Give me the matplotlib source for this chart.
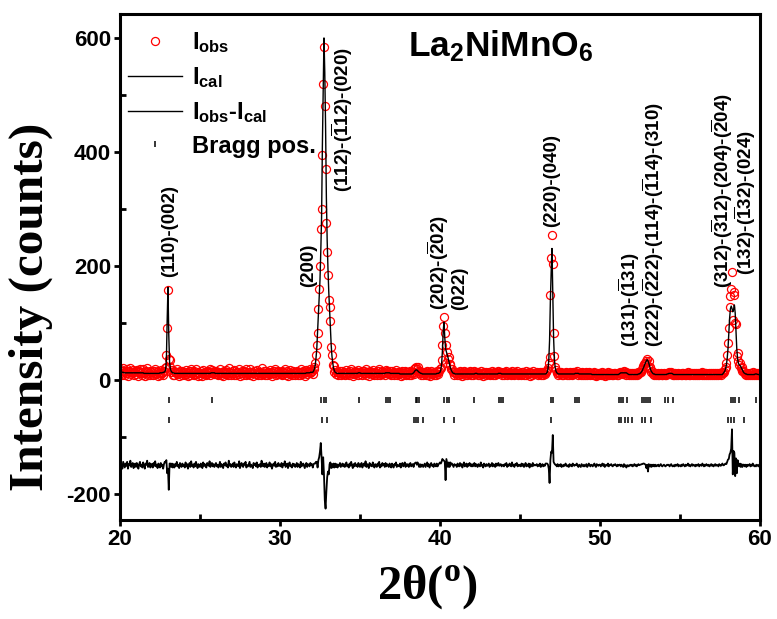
import numpy as np
import matplotlib
matplotlib.use("Agg")
import matplotlib.pyplot as plt
from matplotlib.lines import Line2D

plt.rcParams["font.family"] = ["Liberation Sans", "DejaVu Sans"]
plt.rcParams["font.weight"] = "bold"
plt.rcParams["axes.unicode_minus"] = False
plt.rcParams["mathtext.fontset"] = "custom"
plt.rcParams["mathtext.rm"] = "Liberation Serif:bold"
plt.rcParams["mathtext.bf"] = "Liberation Sans:bold"
plt.rcParams["mathtext.it"] = "Liberation Sans:bold:italic"

# 2-theta scan, 0.05 deg step
two_theta = np.linspace(20, 60, 801)

# observed counts, one row per degree
i_obs = [
    19, 12, 16, 9, 21, 15, 10, 17, 13, 20, 8, 16, 14, 22, 11, 15, 18, 9, 14, 17,
    11, 18, 14, 8, 16, 20, 12, 15, 10, 19, 13, 7, 16, 14, 21, 10, 12, 17, 9, 15,
    15, 9, 17, 12, 20, 11, 14, 8, 16, 13, 10, 18, 12, 15, 9, 17, 22, 24, 45, 92,
    158, 38, 36, 24, 14, 18, 10, 16, 9, 15, 12, 19, 11, 14, 8, 17, 13, 10, 16, 12,
    14, 9, 18, 11, 15, 7, 13, 17, 10, 20, 12, 14, 9, 16, 11, 19, 13, 8, 15, 12,
    10, 16, 13, 8, 18, 12, 15, 11, 9, 17, 14, 12, 20, 10, 15, 18, 12, 16, 11, 14,
    17, 11, 14, 9, 13, 19, 10, 15, 12, 8, 16, 13, 18, 11, 14, 9, 21, 12, 15, 10,
    13, 16, 10, 18, 12, 9, 15, 14, 11, 20, 8, 13, 17, 12, 10, 16, 14, 19, 9, 13,
    11, 15, 19, 10, 14, 12, 8, 17, 13, 16, 11, 18, 9, 14, 12, 15, 10, 21, 13, 11,
    16, 10, 13, 17, 9, 14, 12, 18, 11, 15, 7, 13, 16, 12, 19, 10, 14, 11, 17, 12,
    14, 11, 17, 9, 15, 13, 20, 10, 12, 16, 8, 14, 18, 11, 13, 9, 16, 12, 15, 10,
    12, 17, 10, 15, 13, 9, 19, 11, 14, 16, 12, 8, 15, 18, 11, 16, 14, 12, 19, 15,
    17, 11, 19, 24, 30, 45, 62, 82, 125, 160, 200, 265, 300, 395, 520, 585, 480, 370, 275, 225,
    185, 140, 128, 104, 58, 45, 27, 25, 14, 18, 11, 15, 9, 14, 12, 17, 10, 13, 16, 11,
    15, 10, 13, 18, 11, 14, 9, 16, 12, 19, 13, 8, 15, 11, 17, 12, 14, 10, 18, 15,
    11, 14, 17, 9, 13, 16, 12, 20, 10, 15, 13, 8, 17, 12, 14, 11, 18, 13, 9, 15,
    13, 10, 16, 12, 19, 9, 14, 11, 17, 13, 15, 10, 18, 12, 16, 14, 11, 17, 13, 9,
    16, 12, 9, 15, 13, 18, 10, 14, 12, 11, 15, 8, 13, 16, 10, 12, 17, 9, 14, 11,
    14, 9, 12, 16, 10, 13, 15, 11, 19, 22, 24, 20, 23, 17, 12, 16, 10, 14, 13, 9,
    12, 15, 9, 13, 17, 10, 14, 8, 12, 16, 11, 13, 9, 15, 12, 10, 16, 11, 14, 17,
    20, 22, 35, 62, 95, 111, 82, 30, 62, 50, 38, 40, 26, 28, 20, 19, 14, 10, 15, 12,
    13, 9, 15, 12, 10, 16, 11, 14, 8, 13, 17, 10, 12, 15, 9, 14, 11, 16, 12, 10,
    14, 10, 12, 16, 11, 15, 13, 9, 14, 12, 10, 17, 11, 13, 8, 15, 12, 10, 14, 11,
    12, 15, 9, 13, 11, 16, 10, 14, 12, 9, 15, 11, 13, 17, 12, 14, 15, 10, 12, 13,
    10, 14, 12, 16, 9, 13, 11, 15, 12, 10, 17, 11, 13, 9, 14, 12, 16, 10, 13, 11,
    13, 10, 15, 11, 14, 9, 12, 16, 10, 13, 11, 15, 8, 14, 12, 10, 16, 11, 13, 12,
    12, 14, 10, 13, 11, 15, 9, 12, 14, 10, 13, 11, 15, 16, 18, 22, 30, 40, 150, 215,
    254, 204, 82, 42, 24, 18, 12, 15, 10, 13, 11, 14, 9, 12, 10, 13, 11, 15, 12, 10,
    12, 9, 14, 11, 13, 10, 15, 12, 11, 14, 13, 16, 12, 10, 13, 11, 9, 14, 12, 10,
    13, 10, 12, 14, 9, 11, 15, 12, 10, 13, 11, 9, 12, 14, 10, 8, 13, 11, 10, 12,
    12, 9, 11, 14, 10, 13, 8, 11, 12, 10, 14, 9, 12, 11, 13, 10, 9, 12, 11, 13,
    11, 9, 12, 10, 13, 14, 12, 15, 13, 11, 16, 12, 14, 10, 13, 12, 9, 11, 12, 10,
    12, 9, 11, 13, 10, 12, 9, 11, 14, 12, 14, 15, 18, 20, 25, 28, 31, 33, 30, 38,
    24, 33, 24, 22, 14, 16, 11, 13, 10, 12, 9, 11, 10, 12, 9, 11, 13, 10, 9, 11,
    12, 10, 9, 11, 13, 12, 14, 11, 13, 15, 12, 10, 11, 9, 12, 10, 11, 13, 9, 11,
    11, 9, 12, 10, 13, 11, 9, 12, 10, 11, 14, 10, 12, 9, 11, 13, 10, 12, 11, 9,
    12, 10, 11, 13, 9, 11, 12, 10, 14, 11, 9, 12, 10, 13, 11, 10, 12, 9, 11, 13,
    10, 12, 9, 11, 13, 10, 12, 11, 9, 13, 11, 10, 12, 14, 13, 15, 19, 24, 30, 45,
    66, 92, 128, 148, 160, 190, 105, 150, 155, 100, 98, 42, 48, 33, 26, 30, 22, 24, 16, 17,
    15, 11, 13, 9, 12, 10, 11, 13, 9, 12, 10, 14, 11, 9, 12, 10, 13, 11, 9, 12,
    12,
]

# calculated profile from the refinement
i_cal = [
    14, 14, 14, 14, 14, 13, 13, 13, 13, 13, 13, 13, 13, 13, 13, 13, 13, 13, 13, 13,
    13, 13, 13, 13, 13, 13, 13, 13, 13, 13, 12, 12, 12, 12, 12, 12, 12, 12, 12, 12,
    12, 12, 12, 12, 12, 12, 12, 12, 12, 12, 13, 13, 13, 13, 14, 14, 15, 18, 35, 105,
    163, 80, 32, 20, 16, 14, 13, 13, 12, 12, 12, 12, 12, 12, 12, 12, 12, 12, 12, 12,
    12, 12, 12, 12, 12, 12, 12, 12, 12, 12, 12, 12, 12, 12, 12, 12, 12, 12, 12, 12,
    12, 12, 12, 12, 12, 12, 12, 12, 12, 12, 12, 12, 12, 12, 13, 13, 13, 13, 13, 12,
    12, 12, 12, 12, 12, 12, 12, 12, 12, 12, 12, 12, 12, 12, 12, 12, 12, 12, 12, 12,
    12, 12, 12, 12, 12, 12, 12, 12, 12, 12, 12, 12, 12, 12, 12, 12, 12, 12, 12, 12,
    12, 12, 12, 12, 12, 12, 12, 12, 12, 12, 12, 12, 12, 12, 12, 12, 12, 12, 12, 12,
    12, 12, 12, 12, 12, 12, 12, 12, 12, 12, 12, 12, 12, 12, 12, 12, 12, 12, 12, 12,
    12, 12, 12, 12, 12, 12, 12, 12, 12, 12, 12, 12, 12, 12, 12, 12, 12, 12, 12, 12,
    12, 12, 12, 12, 12, 12, 12, 12, 12, 12, 12, 12, 12, 13, 13, 13, 13, 13, 14, 14,
    14, 14, 16, 20, 26, 38, 55, 85, 115, 145, 175, 225, 285, 410, 505, 600, 540, 445, 320, 245,
    195, 155, 125, 98, 62, 42, 30, 21, 17, 14, 13, 12, 12, 12, 12, 12, 12, 12, 12, 12,
    12, 12, 12, 12, 12, 12, 12, 12, 12, 12, 12, 12, 12, 12, 12, 12, 12, 12, 13, 13,
    13, 12, 12, 12, 12, 12, 12, 12, 12, 12, 12, 12, 12, 12, 12, 12, 12, 12, 12, 12,
    12, 12, 12, 12, 12, 12, 12, 12, 12, 12, 12, 12, 13, 13, 13, 13, 13, 13, 12, 12,
    12, 12, 12, 12, 12, 12, 12, 12, 12, 12, 11, 11, 11, 11, 11, 11, 11, 11, 11, 11,
    11, 11, 11, 11, 11, 11, 12, 13, 15, 17, 18, 18, 17, 15, 14, 13, 12, 12, 11, 11,
    11, 11, 11, 11, 11, 11, 11, 11, 11, 11, 11, 11, 11, 11, 11, 11, 12, 12, 12, 13,
    14, 18, 28, 50, 85, 102, 75, 55, 50, 45, 40, 34, 28, 22, 18, 15, 13, 12, 12, 11,
    11, 11, 11, 11, 11, 11, 11, 11, 11, 11, 11, 11, 11, 11, 11, 11, 11, 11, 11, 11,
    11, 11, 11, 11, 12, 12, 12, 11, 11, 11, 11, 11, 11, 11, 11, 11, 11, 11, 11, 11,
    11, 11, 11, 11, 11, 11, 11, 11, 11, 11, 11, 11, 11, 12, 12, 12, 12, 11, 11, 11,
    11, 11, 11, 11, 11, 11, 11, 11, 11, 11, 11, 11, 11, 11, 11, 11, 11, 11, 11, 11,
    11, 11, 11, 11, 11, 11, 11, 11, 11, 11, 11, 11, 11, 11, 11, 11, 11, 11, 11, 11,
    11, 11, 11, 11, 11, 11, 11, 11, 11, 11, 11, 11, 11, 12, 14, 20, 35, 70, 140, 190,
    231, 150, 75, 38, 22, 16, 13, 12, 11, 11, 11, 11, 11, 11, 11, 11, 11, 11, 11, 11,
    11, 11, 11, 11, 11, 11, 11, 11, 11, 12, 12, 12, 12, 12, 11, 11, 11, 11, 11, 11,
    11, 11, 11, 11, 11, 11, 11, 11, 11, 11, 10, 10, 10, 10, 10, 10, 10, 10, 10, 10,
    10, 10, 10, 10, 10, 10, 10, 10, 10, 10, 10, 10, 10, 10, 10, 10, 10, 10, 10, 10,
    10, 10, 10, 10, 11, 12, 13, 13, 13, 13, 13, 13, 13, 13, 12, 11, 10, 10, 10, 10,
    10, 10, 10, 10, 10, 10, 10, 10, 11, 11, 12, 13, 15, 17, 21, 24, 28, 31, 34, 36,
    34, 30, 25, 20, 16, 14, 12, 11, 11, 10, 10, 10, 10, 10, 10, 10, 10, 10, 10, 10,
    10, 10, 10, 10, 11, 11, 12, 12, 12, 12, 12, 11, 10, 10, 10, 10, 10, 10, 10, 10,
    10, 10, 10, 10, 10, 10, 10, 10, 10, 10, 10, 10, 10, 10, 10, 10, 10, 10, 10, 10,
    10, 10, 10, 10, 10, 10, 10, 10, 10, 10, 10, 10, 10, 10, 10, 10, 10, 10, 10, 10,
    10, 10, 10, 10, 10, 10, 10, 10, 10, 10, 10, 10, 10, 10, 12, 14, 16, 20, 27, 38,
    55, 80, 108, 125, 130, 126, 120, 124, 132, 118, 85, 55, 38, 30, 27, 26, 24, 21, 18, 15,
    13, 12, 11, 11, 10, 10, 10, 10, 10, 10, 10, 10, 10, 10, 11, 11, 11, 10, 10, 10,
    10,
]

diff_offset = -150

# reflection positions, two rows of Bragg markers
bragg_row1 = [23.06, 25.77, 32.58, 32.73, 32.89, 34.94, 36.60, 36.73, 36.85,
              38.48, 38.58, 38.71, 40.27, 40.42, 40.56, 42.15, 43.67, 43.79,
              43.92, 46.92, 47.04, 48.44, 48.56, 48.69, 51.19, 51.31, 51.44,
              51.67, 52.63, 52.75, 52.88, 53.00, 53.13, 54.04, 54.27, 54.54,
              58.17, 58.29, 58.42, 58.69, 59.73]
bragg_row2 = [23.06, 32.60, 32.96, 38.38, 38.50, 38.63, 38.94, 40.25, 40.90,
              46.96, 51.17, 51.33, 51.58, 51.75, 52.00, 52.63, 52.83, 53.19,
              58.02, 58.17, 58.38, 59.02]
bragg_levels = [-34, -70]

bar = r"$\mathbf{\overline{%s}}$"
hkl_labels = [
    "(110)-(002)",
    "(200)",
    "(112)-(" + bar % "1" + "12)-(020)",
    "(202)-(" + bar % "2" + "02)",
    "(022)",
    "(220)-(040)",
    "(131)-(" + bar % "1" + "31)",
    "(222)-(" + bar % "2" + "22)-(114)-(" + bar % "1" + "14)-(310)",
    "(312)-(" + bar % "3" + "12)-(204)-(" + bar % "2" + "04)",
    "(132)-(" + bar % "1" + "32)-(024)",
]
hkl_anchor = [(23.1, 181), (31.8, 163), (33.9, 330), (39.9, 123), (41.2, 123),
              (47.0, 269), (51.85, 58), (53.3, 58), (57.65, 161), (59.1, 184)]

assert len(i_obs) == len(two_theta) == len(i_cal)
i_obs = np.array(i_obs)
i_cal = np.array(i_cal)

fig = plt.figure(figsize=(7.77, 6.19), dpi=100)
ax = fig.add_axes([0.1544, 0.1599, 0.8237, 0.8175])

ax.plot(two_theta, i_obs, ls="none", marker="o", ms=5.8, mfc="none",
        mec="red", mew=0.9, zorder=2)
ax.plot(two_theta, i_cal, color="black", lw=1.0, zorder=3)
ax.plot(two_theta, i_obs - i_cal + diff_offset, color="black", lw=1.3, zorder=3)
for pos, lev in zip([bragg_row1, bragg_row2], bragg_levels):
    ax.plot(pos, [lev] * len(pos), ls="none", marker="|", ms=4.5, mew=1.1,
            color="black", zorder=3)

for text, (x, y) in zip(hkl_labels, hkl_anchor):
    ax.text(x, y, text, rotation=90, ha="center", va="bottom",
            fontsize=13.5, fontweight="bold")

ax.text(43.8, 586, r"La$_\mathbf{2}$NiMnO$_\mathbf{6}$", ha="center",
        va="center", fontsize=25.5, fontweight="bold")

handles = [
    Line2D([], [], ls="none", marker="o", ms=5.8, mfc="none", mec="red", mew=0.9),
    Line2D([], [], color="black", lw=1.0),
    Line2D([], [], color="black", lw=1.0),
    Line2D([], [], ls="none", marker="|", ms=4.5, mew=1.1, color="black"),
]
labels = [r"I$_\mathbf{obs}$", r"I$_\mathbf{cal}$",
          r"I$_\mathbf{obs}$-I$_\mathbf{cal}$", "Bragg pos."]
ax.legend(handles, labels, loc="upper left", bbox_to_anchor=(0.0125, 0.968),
          frameon=False, prop={"family": "Liberation Sans", "weight": "bold",
                               "size": 17},
          handlelength=2.3, handletextpad=0.4, labelspacing=0.42,
          borderpad=0, borderaxespad=0)

ax.set_xlim(20, 60)
ax.set_ylim(-245, 642)
ax.set_xticks([20, 30, 40, 50, 60])
ax.set_xticks([25, 35, 45, 55], minor=True)
ax.set_yticks([-200, 0, 200, 400, 600])
ax.set_yticks([-100, 100, 300, 500], minor=True)
ax.tick_params(which="major", direction="out", length=4.5, width=2,
               labelsize=16, pad=2)
ax.tick_params(which="minor", direction="in", length=4, width=2)
for lab in ax.get_xticklabels() + ax.get_yticklabels():
    lab.set_fontweight("bold")
for sp in ax.spines.values():
    sp.set_linewidth(2.2)

fig.text(0.040, 0.505, "Intensity (counts)", rotation=90, ha="center",
         va="center", family="Liberation Serif", fontweight="bold",
         fontsize=35.5)
fig.text(0.5495, 0.05, r"2θ($^\mathrm{o}$)", ha="center", va="center",
         family="Liberation Serif", fontweight="bold", fontsize=35)

fig.savefig("out.png", dpi=100)
